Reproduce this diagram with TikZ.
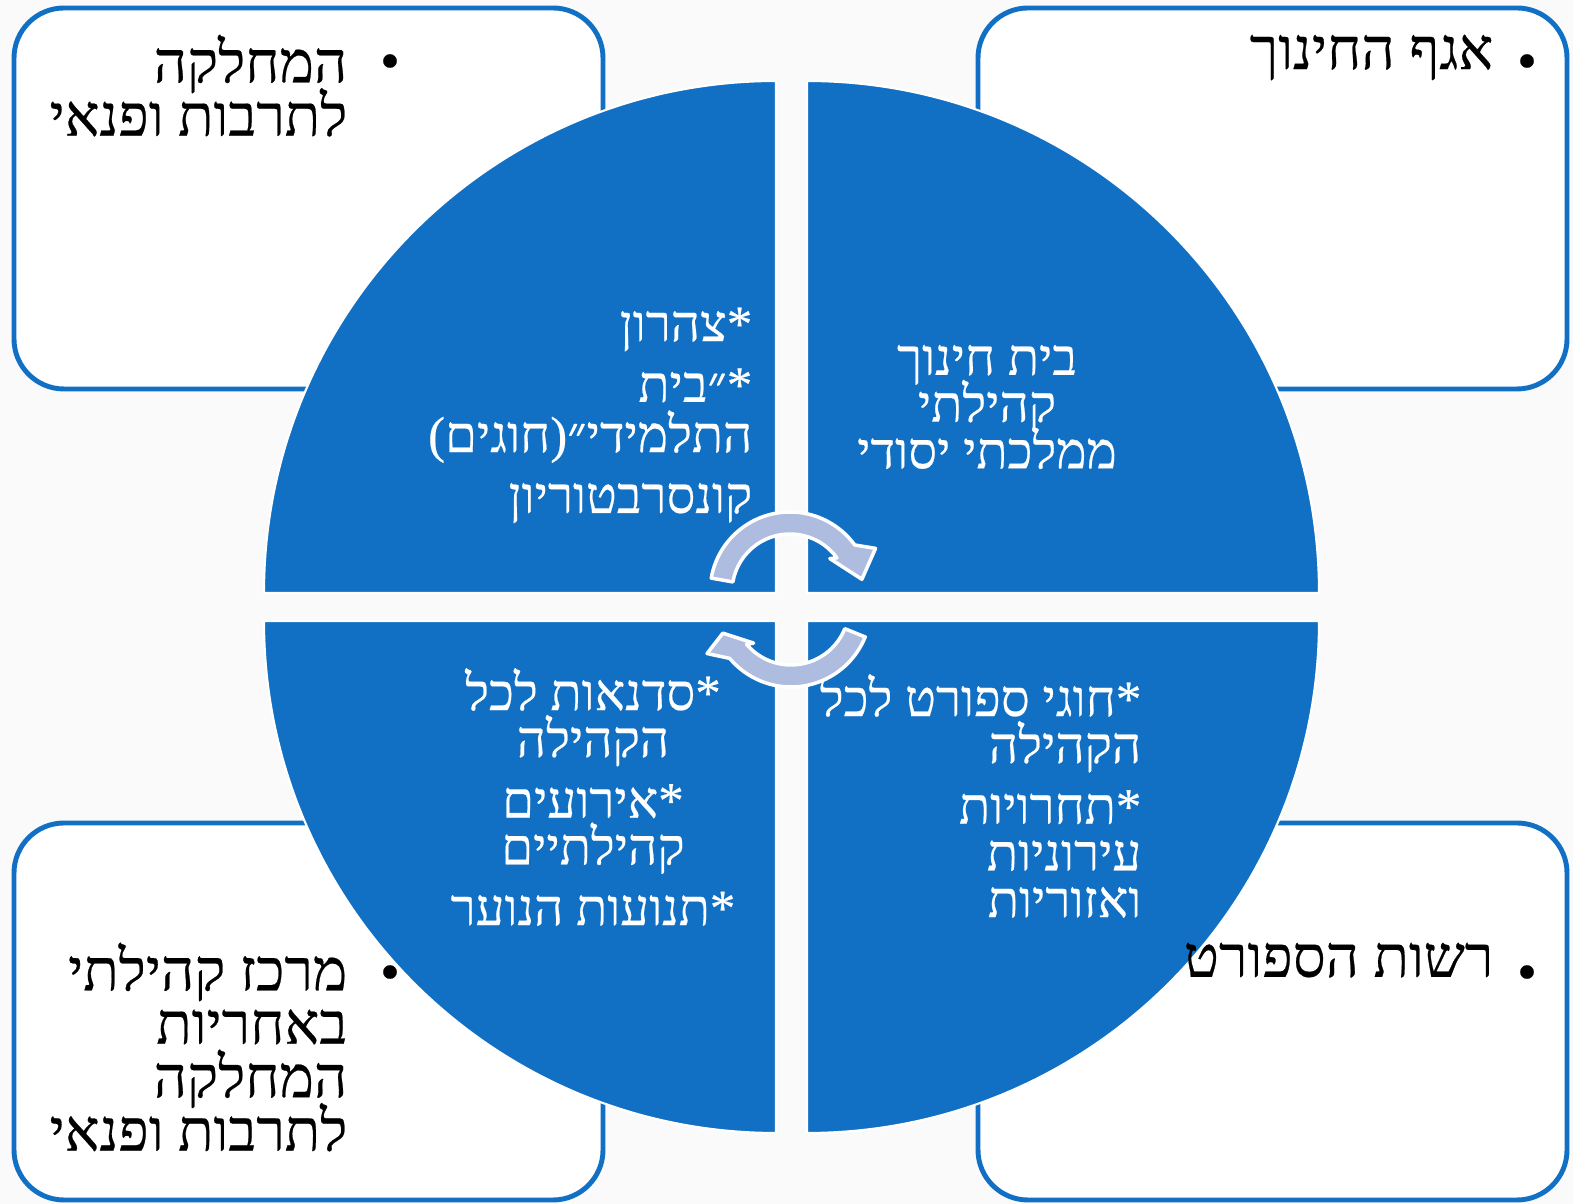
\documentclass[tikz,border=0pt]{standalone}
\usepackage{fontspec}
\newfontfamily\hebfont[Script=Hebrew,FakeBold=0.4]{Liberation Serif}
\TeXXeTstate=1
\definecolor{quadblue}{HTML}{1170C4}
\definecolor{cycblue}{HTML}{AEBCE0}
\newcommand{\rl}[1]{\beginR#1\endR}
\newcommand{\tightskip}{\lineskiplimit=-100pt\relax}

\begin{document}
\begin{tikzpicture}[
  box/.style={draw=quadblue, line width=1.4pt, fill=white, rounded corners=0.5cm},
  quad/.style={fill=quadblue, draw=white, line width=0.6pt},
  cyc/.style={fill=cycblue, draw=white, line width=1pt, line join=round},
  boxtxt/.style={font={\hebfont\fontsize{16.5}{15.2}\selectfont\tightskip}, align=right, inner sep=0pt},
  quadtxt/.style={text=white, font={\hebfont\fontsize{14.5}{13.3}\selectfont\tightskip}, inner sep=0pt},
  dot/.style={font=\hebfont\fontsize{16}{16}\selectfont, inner sep=0pt}]
 \useasboundingbox (0,0) rectangle (15.73,12.04);
 \fill[black!2] (0,0) rectangle (15.73,12.04);
 \draw[box] (0.14,8.15) rectangle (6.03,11.96);
 \draw[box] (9.78,8.15) rectangle (15.67,11.96);
 \draw[box] (0.14,0.04) rectangle (6.03,3.81);
 \draw[box] (9.78,0.04) rectangle (15.67,3.81);

 \coordinate (tl) at (7.76,6.11); \coordinate (tr) at (8.07,6.11);
 \coordinate (bl) at (7.76,5.83); \coordinate (br) at (8.07,5.83);
 \filldraw[quad] (tl) -- ++(0,5.12) arc[start angle=90, end angle=180, radius=5.12] -- cycle;
 \filldraw[quad] (tr) -- ++(5.12,0) arc[start angle=0, end angle=90, radius=5.12] -- cycle;
 \filldraw[quad] (bl) -- ++(-5.12,0) arc[start angle=180, end angle=270, radius=5.12] -- cycle;
 \filldraw[quad] (br) -- ++(0,-5.12) arc[start angle=270, end angle=360, radius=5.12] -- cycle;

 \node[dot] (culture dot) at (3.90,11.37) {•};
 \node[boxtxt, anchor=north east] (culture) at (3.48,11.70) {\rl{המחלקה}\\\rl{לתרבות ופנאי}};
 \node[dot] (edu dot) at (15.27,11.37) {•};
 \node[boxtxt, anchor=north east] (edu) at (14.94,11.70) {\rl{אגף החינוך}};
 \node[dot] (center dot) at (3.90,2.26) {•};
 \node[boxtxt, anchor=north east] (center) at (3.48,2.62) {\rl{מרכז קהילתי}\\\rl{באחריות}\\\rl{המחלקה}\\\rl{לתרבות ופנאי}};
 \node[dot] (sport dot) at (15.27,2.26) {•};
 \node[boxtxt, anchor=north east] (sport) at (14.94,2.62) {\rl{רשות הספורט}};

 \node[quadtxt, align=right, anchor=north east] (after) at (7.53,8.97)
   {\rl{*צהרון}\\[4pt]\rl{*״בית}\\[1pt]\rl{התלמידי״(חוגים)}\\[4pt]\rl{קונסרבטוריון}};
 \node[quadtxt, align=center] (school) at (9.87,7.97)
   {\rl{בית חינוך}\\\rl{קהילתי}\\\rl{ממלכתי יסודי}};
 \node[quadtxt, align=center] (events) at (5.93,4.07)
   {\rl{*סדנאות לכל}\\\rl{הקהילה}\\[4pt]\rl{*אירועים}\\\rl{קהילתיים}\\[4pt]\rl{*תנועות הנוער}};
 \node[quadtxt, align=right, anchor=east] (games) at (11.42,4.08)
   {\rl{*חוגי ספורט לכל}\\\rl{הקהילה}\\[4pt]\rl{*תחרויות}\\\rl{עירוניות}\\\rl{ואזוריות}};

 \coordinate (c1) at (7.90,6.12); \coordinate (c2) at (7.91,5.97);
 \filldraw[cyc] ([shift={(170:0.8)}]c1) arc[start angle=170, end angle=36, radius=0.8]
   -- ([shift={(27:0.96)}]c1) -- ([shift={(10:0.73)}]c1) -- ([shift={(40:0.52)}]c1)
   -- ([shift={(36:0.58)}]c1) arc[start angle=36, end angle=170, radius=0.58] -- cycle;
 \filldraw[cyc] ([shift={(-22:0.8)}]c2) arc[start angle=-22, end angle=-140, radius=0.8]
   -- ([shift={(-151:0.96)}]c2) -- ([shift={(-159:0.73)}]c2) -- ([shift={(-136:0.52)}]c2)
   -- ([shift={(-140:0.58)}]c2) arc[start angle=-140, end angle=-22, radius=0.58] -- cycle;
\end{tikzpicture}
\end{document}
